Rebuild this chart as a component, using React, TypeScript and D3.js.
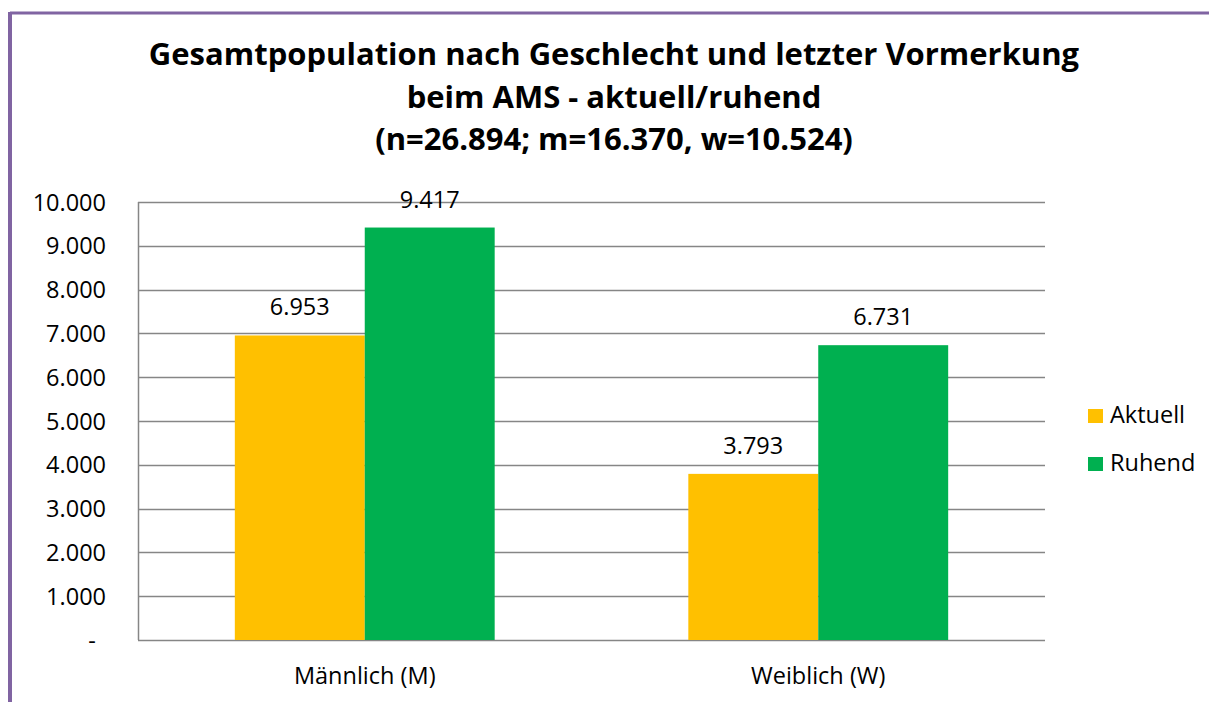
import React from "react";
import * as d3 from "d3";

const categories = ["Männlich (M)", "Weiblich (W)"];
const seriesNames = ["Aktuell", "Ruhend"];
const aktuell = [6953, 3793];
const ruhend = [9417, 6731];
const yTicks = [0, 1000, 2000, 3000, 4000, 5000, 6000, 7000, 8000, 9000, 10000];
const titleLines = [
  "Gesamtpopulation nach Geschlecht und letzter Vormerkung",
  "beim AMS - aktuell/ruhend",
  "(n=26.894; m=16.370, w=10.524)",
];
const colors = ["#FFC000", "#00B050"];

const W = 1209;
const H = 702;
const plot = { left: 138, right: 1045, top: 202, bottom: 640 };
const FONT = "Open Sans, Noto Sans, sans-serif";
const FS = 23.5;

const fmt = (v: number) => (v === 0 ? "-" : d3.format(",")(v).replace(/,/g, "."));

export default function App() {
  const x0 = d3.scaleBand<string>().domain(categories).range([plot.left, plot.right]).padding(0);
  const groupW = x0.bandwidth() * 0.573;
  const x1 = d3.scaleBand<string>().domain(seriesNames).range([0, groupW]).padding(0);
  const y = d3.scaleLinear().domain([0, 10000]).range([plot.bottom, plot.top]);
  const series = [aktuell, ruhend];

  return (
    <svg width={W} height={H} style={{ position: "absolute", left: 0, top: 0 }}>
      <rect x={0} y={0} width={W} height={H} fill="#fff" />
      {/* frame */}
      <line x1={10} y1={13} x2={W} y2={13} stroke="#8064A2" strokeWidth={3} />
      <line x1={10} y1={12} x2={10} y2={H} stroke="#8064A2" strokeWidth={4} />
      {/* title */}
      {titleLines.map((t, i) => (
        <text key={i} x={614} y={65 + i * 42.5} textAnchor="middle" fontFamily={FONT} fontWeight="bold" fontSize={31} fill="#000">
          {t}
        </text>
      ))}
      {/* gridlines */}
      {yTicks.map((t) => (
        <line key={t} x1={plot.left} x2={plot.right} y1={Math.round(y(t)) + 0.5} y2={Math.round(y(t)) + 0.5} stroke="#868686" strokeWidth={1.5} />
      ))}
      <line x1={plot.left + 0.5} x2={plot.left + 0.5} y1={plot.top} y2={plot.bottom} stroke="#868686" strokeWidth={1.5} />
      {/* y labels */}
      {yTicks.map((t) => (
        <text key={t} x={t === 0 ? 92 : 106} y={y(t) + 8.5} textAnchor={t === 0 ? "middle" : "end"} fontFamily={FONT} fontSize={FS} fill="#000">
          {fmt(t)}
        </text>
      ))}
      {/* bars */}
      {categories.map((c, ci) => {
        const gx = (x0(c) as number) + (x0.bandwidth() - groupW) / 2;
        return (
          <g key={c}>
            {seriesNames.map((s, si) => {
              const v = series[si][ci];
              const bx = gx + (x1(s) as number);
              return (
                <g key={s}>
                  <rect x={bx} y={y(v)} width={x1.bandwidth()} height={plot.bottom - y(v)} fill={colors[si]} />
                  <text x={bx + x1.bandwidth() / 2} y={y(v) - 20} textAnchor="middle" fontFamily={FONT} fontSize={FS} fill="#000">
                    {fmt(v)}
                  </text>
                </g>
              );
            })}
            <text x={(x0(c) as number) + x0.bandwidth() / 2} y={684} textAnchor="middle" fontFamily={FONT} fontSize={FS} fill="#000">
              {c}
            </text>
          </g>
        );
      })}
      {/* legend */}
      {seriesNames.map((s, i) => (
        <g key={s} transform={`translate(1088, ${409 + i * 48})`}>
          <rect x={0} y={0} width={15} height={14} fill={colors[i]} />
          <text x={22} y={14} fontFamily={FONT} fontSize={FS} fill="#000">
            {s}
          </text>
        </g>
      ))}
    </svg>
  );
}
